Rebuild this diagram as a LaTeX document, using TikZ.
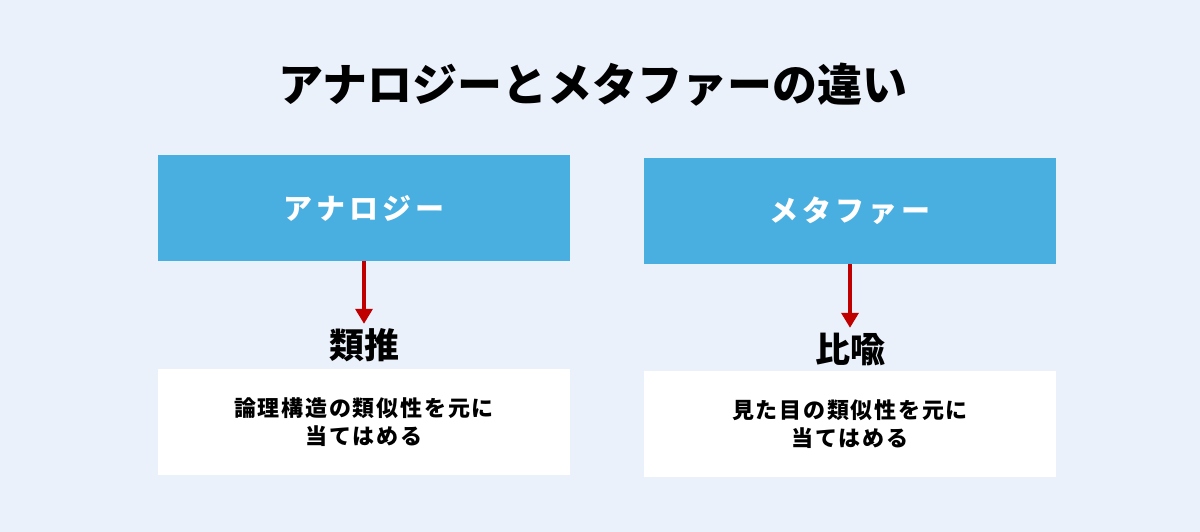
\documentclass[tikz,border=0pt]{standalone}
\usepackage{fontspec}
\setmainfont{Noto Sans CJK JP}
\newfontfamily\medwide[LetterSpace=14]{Noto Sans CJK JP}
\newfontfamily\medspaced[LetterSpace=8]{Noto Sans CJK JP}
\usetikzlibrary{arrows.meta}
\definecolor{bgblue}{HTML}{EAF1FA}
\definecolor{boxblue}{HTML}{48AFE0}
\definecolor{arrowred}{HTML}{C00000}

\begin{document}
\begin{tikzpicture}[x=1pt, y=-1pt,
head/.style = {fill=boxblue, text=white, minimum width=412pt, minimum height=106pt,
    font=\medwide\fontsize{29}{36}\selectfont\bfseries},
term/.style = {inner sep=0pt, text height=30pt, text depth=4pt,
    font=\fontsize{35}{40}\selectfont\bfseries},
desc/.style = {fill=white, minimum width=412pt, minimum height=106pt, align=center,
    font=\medspaced\fontsize{22}{28}\selectfont\bfseries},
link/.style = {arrowred, line width=3.5pt, -{Triangle[width=17pt,length=15pt]}}]
\useasboundingbox (0,0) rectangle (1200,532);
\fill[bgblue] (0,0) rectangle (1200,532);
\node (title) at (593,85) {\fontsize{45}{50}\selectfont\bfseries アナロジーとメタファーの違い};
\node[head] (anaBox) at (364,208) {アナロジー};
\node[head] (metaBox) at (850,211) {メタファー};
\node[term] (anaTerm) at (364,345) {類推};
\node[term] (metaTerm) at (850,349) {比喩};
\node[desc] (anaDesc) at (364,422) {論理構造の類似性を元に\\当てはめる};
\node[desc] (metaDesc) at (850,424) {見た目の類似性を元に\\当てはめる};
\draw[link] (anaBox.south) -- ([yshift=4pt]anaTerm.north);
\draw[link] (metaBox.south) -- ([yshift=4pt]metaTerm.north);
\end{tikzpicture}
\end{document}
